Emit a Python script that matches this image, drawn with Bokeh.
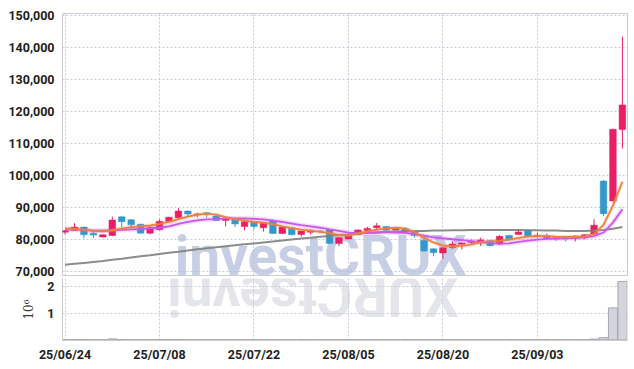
import numpy as np
from bokeh.plotting import figure
from bokeh.layouts import column
from bokeh.models import Range1d, FixedTicker, NumeralTickFormatter, ColumnDataSource, Grid, Span
from bokeh.embed import file_html
from bokeh.resources import INLINE

# ---------------- data ----------------
tick_index = [0, 10, 20, 30, 40, 50]
tick_labels = ["25/06/24", "25/07/08", "25/07/22", "25/08/05", "25/08/20", "25/09/03"]

opens = [82200, 82700, 83800, 81900, 80700, 81200, 87000, 86100, 84700, 81900,
         83000, 85500, 86700, 88800, 87600, 88300, 87300, 85900, 86300, 84000,
         85500, 83600, 85700, 81800, 83600, 81500, 82200, 82600, 83000, 78700,
         80100, 81500, 82700, 83600, 84000, 82900, 83400, 82400, 79600, 77000,
         75700, 77400, 78400, 79000, 78800, 79500, 78500, 81200, 81500, 82800,
         80900, 81100, 80800, 80700, 80200, 81000, 81600, 98200, 92000, 114300]
highs = [82900, 85000, 83900, 82600, 81500, 87100, 87200, 86300, 84900, 84200,
         86200, 87000, 89700, 89000, 88300, 88400, 87500, 86600, 86500, 85700,
         85700, 85200, 86200, 84000, 83800, 82700, 83000, 82800, 83200, 80700,
         81500, 83100, 83900, 85100, 84100, 83800, 83800, 82500, 80800, 77100,
         77500, 79300, 79000, 79900, 80500, 79700, 81300, 81400, 83000, 83200,
         82100, 81900, 80900, 80800, 81200, 81600, 86300, 98500, 114600, 143400]
lows = [81500, 82600, 80300, 80300, 80600, 81000, 83700, 83700, 81800, 81600,
        82800, 85400, 86500, 87100, 86900, 86800, 85700, 84000, 83800, 82800,
        83100, 82400, 81700, 81600, 81200, 80800, 81500, 81900, 78500, 77900,
        80000, 81300, 82500, 83000, 82500, 82700, 82000, 80500, 76100, 74700,
        73900, 77000, 76800, 78500, 77900, 77800, 78200, 79600, 81400, 80700,
        80500, 80200, 79500, 79300, 79300, 80000, 81400, 87300, 91800, 108400]
closes = [82700, 83800, 81400, 81300, 81400, 86000, 85500, 84500, 81900, 83700,
          85600, 86900, 88800, 87900, 87900, 87700, 85900, 86500, 84800, 85500,
          84000, 85000, 81800, 83800, 81400, 82600, 82800, 82400, 78700, 80500,
          81300, 82900, 83400, 84200, 82800, 83600, 82200, 81200, 76300, 75800,
          77300, 78500, 78800, 79400, 79800, 78000, 80900, 79800, 82300, 80900,
          81200, 80300, 80100, 80200, 81000, 81400, 84400, 88000, 114400, 122000]
volumes = [12000, 15000, 11000, 9000, 8000, 38000, 14000, 10000, 9000, 8000,
           12000, 11000, 15000, 9000, 7000, 8000, 7000, 6000, 7000, 6000,
           7000, 6000, 9000, 7000, 6000, 5000, 5000, 4000, 10000, 8000,
           6000, 7000, 6000, 8000, 6000, 5000, 5000, 6000, 12000, 9000,
           10000, 7000, 6000, 5000, 6000, 5000, 7000, 6000, 8000, 7000,
           5000, 5000, 4000, 4000, 5000, 5000, 30000, 85000, 1200000, 2190000]
ma_short = [83400, 83200, 83000, 82600, 82500, 82800, 83300, 83800, 84000, 84300,
            84800, 85400, 86300, 87100, 87700, 88000, 87700, 86900, 86300, 85900,
            85400, 85200, 84700, 84000, 83500, 83000, 82700, 82300, 81900, 81400,
            81100, 81800, 82400, 83000, 83400, 83600, 83300, 82200, 80500, 79000,
            78000, 77800, 77900, 78300, 79100, 79400, 79500, 79900, 80400, 80800,
            81000, 81000, 80800, 80700, 80700, 80900, 81600, 84500, 90500, 98000]
ma_mid = [83100, 83000, 82900, 82700, 82700, 82800, 82900, 83100, 83200, 83400,
          83600, 84000, 84800, 85400, 85900, 86200, 86300, 86500, 86500, 86500,
          86400, 86200, 85800, 85400, 84900, 84400, 84000, 83600, 83100, 82600,
          82100, 81900, 81900, 82000, 82200, 82100, 82000, 81600, 81100, 80600,
          80300, 80000, 79700, 79400, 79100, 78800, 78600, 78700, 79200, 79600,
          79900, 80100, 80200, 80300, 80400, 80500, 81000, 82100, 85200, 89400]
ma_long = [72000, 72300, 72600, 72900, 73200, 73600, 73900, 74300, 74700, 75000,
           75400, 75800, 76100, 76500, 76900, 77200, 77500, 77800, 78100, 78400,
           78700, 79000, 79300, 79600, 79900, 80200, 80500, 80800, 81000, 81300,
           81500, 81800, 82000, 82200, 82300, 82400, 82500, 82600, 82600, 82700,
           82700, 82800, 82800, 82900, 82900, 82900, 82900, 82900, 82900, 82800,
           82800, 82700, 82700, 82600, 82600, 82600, 82700, 82900, 83300, 83800]
price_ticks = [70000, 80000, 90000, 100000, 110000, 120000, 130000, 140000, 150000]
volume_ticks = [1000000, 2000000]
volume_tick_labels = ["1", "2"]
volume_label = "10⁶"
watermark = "investCRUX"

# ---------------- styles / layout ----------------
UP = "#E91E63"
DOWN = "#3399CC"
GRID = "#C5CADC"
EDGE = "#CCCCCC"
FONT = "Roboto"
X_START, X_END = -0.27, 59.54
PRICE_START, PRICE_END = 68655, 150634
VOL_START, VOL_END = -22000, 2300000

idx = list(range(len(closes)))
colors = [UP if c >= o else DOWN for o, c in zip(opens, closes)]
src = ColumnDataSource(dict(
    x=idx, o=opens, h=highs, l=lows, c=closes,
    top=[max(o, c) for o, c in zip(opens, closes)],
    bot=[min(o, c) for o, c in zip(opens, closes)],
    color=colors, vol=volumes,
    ma_s=ma_short, ma_m=ma_mid, ma_l=ma_long,
))

xr = Range1d(X_START, X_END)


def style_axis(a, standoff):
    a.axis_line_color = None
    a.major_tick_line_color = None
    a.minor_tick_line_color = None
    a.major_tick_out = 0
    a.major_tick_in = 0
    a.minor_tick_out = 0
    a.major_label_standoff = standoff
    a.major_label_text_font = FONT
    a.major_label_text_font_style = "bold"
    a.major_label_text_font_size = "12.5px"
    a.major_label_text_color = "#222222"


def style_fig(p):
    p.background_fill_color = "white"
    p.border_fill_color = "white"


# ---------------- price panel ----------------
p1 = figure(width=630, height=278, x_range=xr, y_range=Range1d(PRICE_START, PRICE_END),
            output_backend="svg", toolbar_location=None, x_axis_location=None,
            min_border_left=62, min_border_right=3, min_border_top=13, min_border_bottom=3)
style_fig(p1)
p1.outline_line_color = EDGE
for g in p1.xgrid:
    g.grid_line_color = None
p1.add_layout(Grid(dimension=0, ticker=FixedTicker(ticks=tick_index),
                   grid_line_color=GRID, grid_line_dash="2 2"))
p1.ygrid.ticker = FixedTicker(ticks=price_ticks)
p1.ygrid.grid_line_color = GRID
p1.ygrid.grid_line_dash = "2 2"

ay = p1.yaxis[0]
ay.ticker = FixedTicker(ticks=price_ticks)
ay.formatter = NumeralTickFormatter(format="0,0")
style_axis(ay, 8)

# watermark
p1.text(x=[11.6], y=[PRICE_START], text=[watermark], text_font={"value": FONT},
        text_font_style="bold", text_font_size="55px", text_color="#B4BFDB",
        text_alpha=0.75, text_align="left", text_baseline="middle", y_offset=-20)

# candles
p1.segment(x0="x", y0="l", x1="x", y1="h", color="color", line_width=1, source=src)
p1.vbar(x="x", width=0.7, top="top", bottom="bot", fill_color="color",
        line_color="color", line_width=0.5, source=src)

# moving averages
p1.line("x", "ma_l", source=src, color="#808080", line_width=2, line_alpha=0.9)
p1.line("x", "ma_m", source=src, color="#CC55EE", line_width=5, line_alpha=0.2)
p1.line("x", "ma_m", source=src, color="#CC55EE", line_width=1.8)
p1.line("x", "ma_s", source=src, color="#F08040", line_width=4, line_alpha=0.2)
p1.line("x", "ma_s", source=src, color="#F08040", line_width=1.8)

# ---------------- volume panel ----------------
p2 = figure(width=630, height=88, x_range=xr, y_range=Range1d(VOL_START, VOL_END),
            output_backend="svg", toolbar_location=None,
            min_border_left=62, min_border_right=3, min_border_top=0, min_border_bottom=26)
style_fig(p2)
p2.outline_line_color = None
p2.xgrid.ticker = FixedTicker(ticks=tick_index)
p2.xgrid.grid_line_color = GRID
p2.xgrid.grid_line_dash = "2 2"
p2.ygrid.ticker = FixedTicker(ticks=volume_ticks)
p2.ygrid.grid_line_color = GRID
p2.ygrid.grid_line_dash = "2 2"

ax = p2.xaxis[0]
ax.ticker = FixedTicker(ticks=tick_index)
ax.major_label_overrides = {i: s for i, s in zip(tick_index, tick_labels)}
style_axis(ax, 6)
ax.axis_line_color = EDGE

av = p2.yaxis[0]
av.ticker = FixedTicker(ticks=volume_ticks)
av.major_label_overrides = {v: s for v, s in zip(volume_ticks, volume_tick_labels)}
style_axis(av, 8)
av.axis_line_color = EDGE
av.axis_label = volume_label
av.axis_label_text_font = "DejaVu Serif"
av.axis_label_text_font_style = "normal"
av.axis_label_text_font_size = "12px"
av.axis_label_text_color = "#333333"
av.axis_label_standoff = 8

# right edge of the volume panel
p2.add_layout(Span(location=X_END - 0.05, dimension="height", line_color=EDGE, line_width=1))

# watermark reflection
p2.text(x=[41.7], y=[VOL_END], text=[watermark[::-1]], text_font={"value": FONT},
        text_font_style="bold", text_font_size="55px", text_color="#C8CCD8",
        text_alpha=0.5, text_align="left", text_baseline="middle", angle=np.pi,
        y_offset=17)

p2.vbar(x="x", width=0.95, top="vol", bottom=0, fill_color="#D4D4DC",
        line_color="#A8A8B2", line_width=1, source=src)

layout = column(p1, p2, spacing=0)
open("out.html", "w").write(file_html(layout, INLINE))
